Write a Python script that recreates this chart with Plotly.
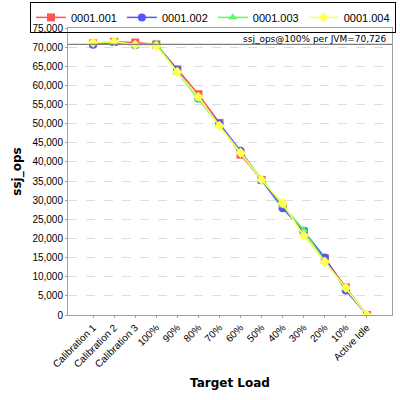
import plotly.graph_objects as go

categorias = ['Calibration 1', 'Calibration 2', 'Calibration 3', '100%', '90%', '80%',
              '70%', '60%', '50%', '40%', '30%', '20%', '10%', 'Active Idle']

jvm_001 = [71000, 71400, 71200, 70700, 64200, 57700, 50200, 41900, 35300, 28500, 21800, 14800, 7200, 0]
jvm_002 = [70600, 71300, 70500, 70700, 64000, 56600, 50000, 42900, 35200, 27900, 22000, 15000, 6400, 0]
jvm_003 = [71000, 71300, 70600, 71000, 63400, 56400, 49600, 42700, 35400, 28600, 22200, 14000, 7000, 0]
jvm_004 = [71200, 71500, 70600, 70300, 63500, 57000, 49400, 42400, 35300, 29200, 20700, 13900, 7100, 0]

series = ['0001.001', '0001.002', '0001.003', '0001.004']
referencia = 70726

cores = ['#FF5555', '#5555FF', '#55FF55', '#FFFF55']
simbolos = ['square', 'circle', 'triangle-up', 'diamond']

fig = go.Figure()

for nome, valores, cor, simb in zip(series, [jvm_001, jvm_002, jvm_003, jvm_004], cores, simbolos):
    fig.add_trace(
        go.Scatter(
            x = categorias,
            y = valores,
            name = nome,
            mode = 'lines+markers',
            line = dict(color = cor, width = 1.5),
            marker = dict(color = cor, symbol = simb, size = 8)
        )
    )

fig.add_hline(y = referencia, line = dict(color = '#808080', width = 1.2))
fig.add_annotation(
    x = 1, xref = 'x domain', y = referencia, yref = 'y',
    text = f'ssj_ops@100% per JVM={referencia:,}',
    showarrow = False, xanchor = 'right', yanchor = 'bottom',
    font = dict(size = 9, color = '#000000'), xshift = -3, yshift = -2
)

# titulo do eixo x como anotacao
fig.add_annotation(
    x = 0.5, xref = 'x domain', y = -0.237, yref = 'y domain',
    text = '<b>Target Load</b>', showarrow = False,
    xanchor = 'center', yanchor = 'middle',
    font = dict(size = 12, color = '#000000')
)

# margens zeradas em cima e nas laterais: a legenda fica dentro do papel e nao empurra o grafico
fig.update_layout(
    width = 400, height = 400,
    paper_bgcolor = '#FFFFFF',
    plot_bgcolor = '#FFFFFF',
    font = dict(family = 'DejaVu Sans', color = '#000000', size = 10),
    margin = dict(l = 0, r = 0, t = 0, b = 85),
    legend = dict(orientation = 'h', x = 0.075, xanchor = 'left', y = 0.994, yanchor = 'top',
                  bordercolor = '#000000', borderwidth = 1, bgcolor = 'rgba(255,255,255,0)',
                  font = dict(family = 'Liberation Sans', size = 11), itemwidth = 30,
                  tracegroupgap = 0),
    xaxis = dict(domain = [68 / 400, 392 / 400], showgrid = False, tickangle = -45,
                 tickfont = dict(family = 'Liberation Sans', size = 10),
                 range = [-1.19, 14.19], automargin = False,
                 showline = True, linecolor = '#A0A0A0', mirror = True,
                 ticks = 'outside', ticklen = 2, tickcolor = '#A0A0A0'),
    yaxis = dict(domain = [0, 287 / 315], range = [0, 75000], dtick = 5000, tickformat = ',d',
                 automargin = False,
                 showgrid = True, gridcolor = '#DDDDDD', griddash = 'dash',
                 title = dict(text = '<b>ssj_ops</b>', font = dict(size = 12), standoff = 8),
                 tickfont = dict(family = 'Liberation Sans', size = 10),
                 showline = True, linecolor = '#A0A0A0', mirror = True,
                 ticks = 'outside', ticklen = 2, tickcolor = '#A0A0A0', zeroline = False)
)

# tira a margem padrao do body para o grafico ficar alinhado com a janela
fig.write_html('out.html', config = {'displayModeBar': False},
               post_script = "document.body.style.margin = '0';")
